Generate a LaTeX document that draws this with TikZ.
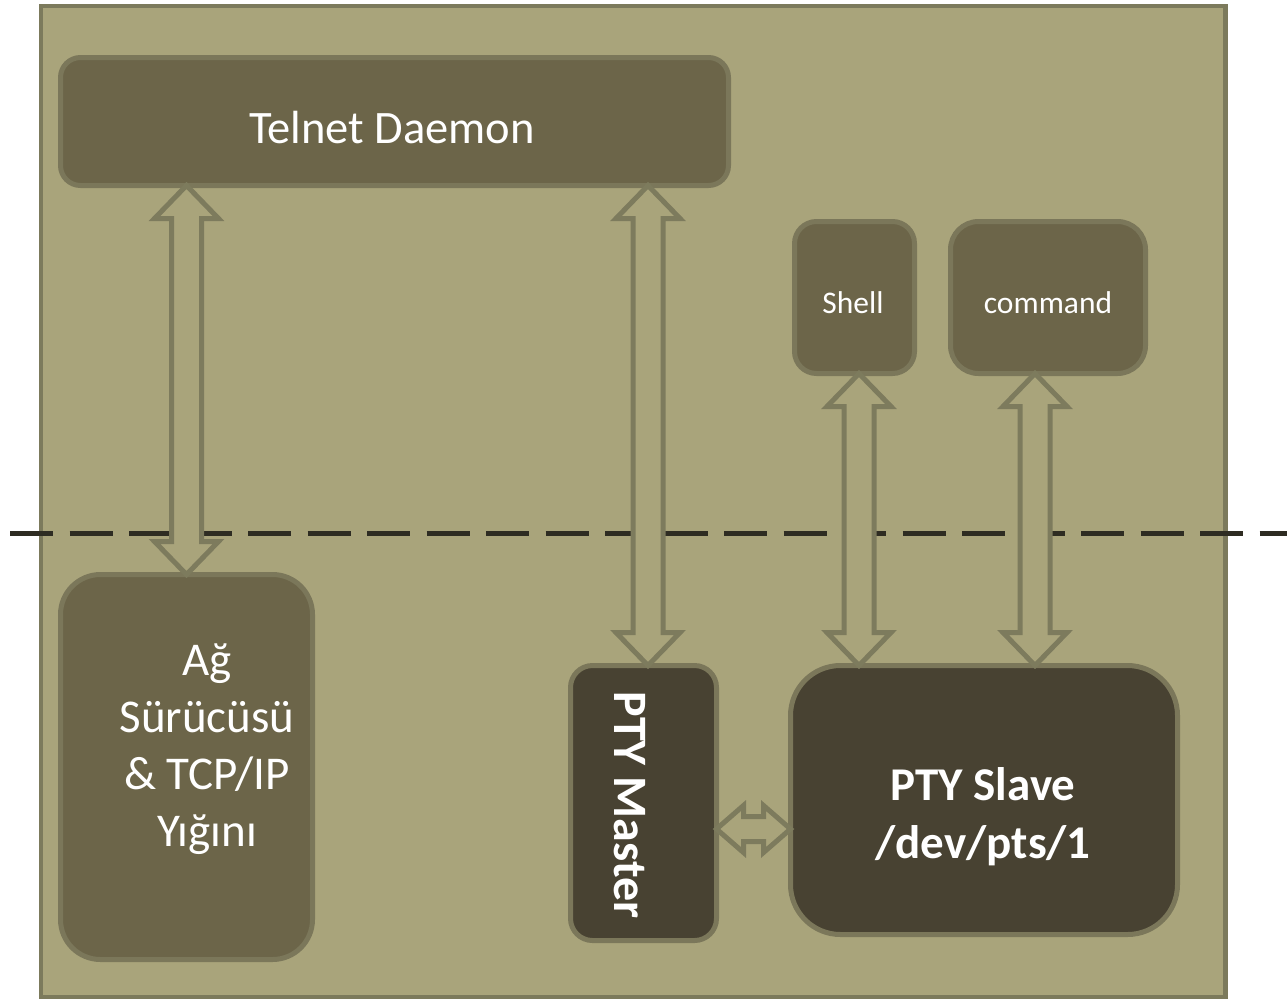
\documentclass[tikz,border=0pt]{standalone}
\usepackage{fontspec}
\setmainfont{Carlito}
\usetikzlibrary{calc}

\definecolor{panel}{RGB}{169,164,123}
\definecolor{panelrim}{RGB}{124,122,92}
\definecolor{boxfill}{RGB}{108,101,73}
\definecolor{boxrim}{RGB}{123,119,90}
\definecolor{ptyfill}{RGB}{72,66,50}
\definecolor{arrowrim}{RGB}{125,123,93}
\definecolor{cutline}{RGB}{46,44,34}

\tikzset{
  procbox/.style={draw=boxrim, fill=boxfill, line width=5pt, rounded corners=#1,
    inner sep=0pt, outer sep=0pt},
  ptybox/.style={procbox=#1, fill=ptyfill},
  lbl/.style={text=white, inner sep=0pt},
  % hollow two-headed arrow, start above target
  vdbl/.style={draw=arrowrim, fill=panel, line width=5pt, line join=miter,
    to path={let \p1=(\tikztostart), \p2=(\tikztotarget) in
      (\x1,\y1) -- (\x1+32pt,\y1-33pt) -- (\x1+15pt,\y1-33pt) -- (\x1+15pt,\y2+33pt)
      -- (\x1+32pt,\y2+33pt) -- (\x1,\y2) -- (\x1-32pt,\y2+33pt) -- (\x1-15pt,\y2+33pt)
      -- (\x1-15pt,\y1-33pt) -- (\x1-32pt,\y1-33pt) -- cycle}},
  % hollow two-headed arrow, start left of target
  hdbl/.style={draw=arrowrim, fill=panel, line width=5pt, line join=miter,
    to path={let \p1=(\tikztostart), \p2=(\tikztotarget) in
      (\x1,\y1) -- (\x1+27pt,\y1+23.5pt) -- (\x1+27pt,\y1+12.5pt) -- (\x2-27pt,\y1+12.5pt)
      -- (\x2-27pt,\y1+23.5pt) -- (\x2,\y1) -- (\x2-27pt,\y1-23.5pt) -- (\x2-27pt,\y1-12.5pt)
      -- (\x1+27pt,\y1-12.5pt) -- (\x1+27pt,\y1-23.5pt) -- cycle}},
  cut/.style={draw=cutline, line width=5pt, dash pattern=on 43pt off 16.5pt}
}

\begin{document}
\begin{tikzpicture}[x=1pt, y=-1pt]
\useasboundingbox (0,0) rectangle (1287,1002);

% outer panel
\draw[draw=panelrim, fill=panel, line width=4.5pt] (41,6) rectangle (1225.5,997);

% user space / kernel space divider
\coordinate (cutW) at (10,533);
\coordinate (cutE) at (1287,533);
\draw[cut] (cutW) -- (cutE);

% process and driver boxes
\node[procbox=20pt, minimum width=668pt, minimum height=128pt] (telnet) at (394.5,121.5) {};
\node[procbox=40pt, minimum width=252pt, minimum height=385pt] (ag) at (186.5,767) {};
\node[ptybox=22pt, minimum width=146pt, minimum height=275pt] (master) at (643.5,803) {};
\node[ptybox=50pt, minimum width=387pt, minimum height=269pt] (slave) at (984,800) {};
\node[procbox=22pt, minimum width=120pt, minimum height=152pt] (shell) at (854.5,297.5) {};
\node[procbox=28pt, minimum width=195pt, minimum height=152pt] (cmd) at (1048,297.5) {};

% connectors
\coordinate (a2) at ($(master.north)+(4.5,0)$);
\coordinate (a3) at ($(shell.south)+(4.5,0)$);
\coordinate (a4) at ($(cmd.south)+(-13,0)$);
\coordinate (a5) at ($(master.east)+(0,26)$);
\draw[vdbl] (ag.north |- telnet.south) to (ag.north);
\draw[vdbl] (a2 |- telnet.south) to (a2);
\draw[vdbl] (a3) to (a3 |- slave.north);
\draw[vdbl] (a4) to (a4 |- slave.north);
\draw[hdbl] (a5) to (a5 -| slave.west);

% labels
\node[lbl, anchor=base, font=\fontsize{46.5}{54}\selectfont] (telnetT) at (392,143) {Telnet Daemon};
\node[lbl, align=center, font=\fontsize{47}{57}\selectfont] (agT) at (207,749)
  {Ağ\\Sürücüsü\\\& TCP/IP\\Yığını};
\node[lbl, rotate=-90, font=\fontsize{48}{56}\bfseries\selectfont] (masterT) at (629.5,805) {PTY Master};
\node[lbl, align=center, font=\fontsize{47}{58}\bfseries\selectfont] (slaveT) at (983,817)
  {PTY Slave\\/dev/pts/1};
\node[lbl, anchor=base, font=\fontsize{31.5}{38}\selectfont] (shellT) at (853,313) {Shell};
\node[lbl, anchor=base, font=\fontsize{31.5}{38}\selectfont] (cmdT) at (1048,313) {command};
\end{tikzpicture}
\end{document}
